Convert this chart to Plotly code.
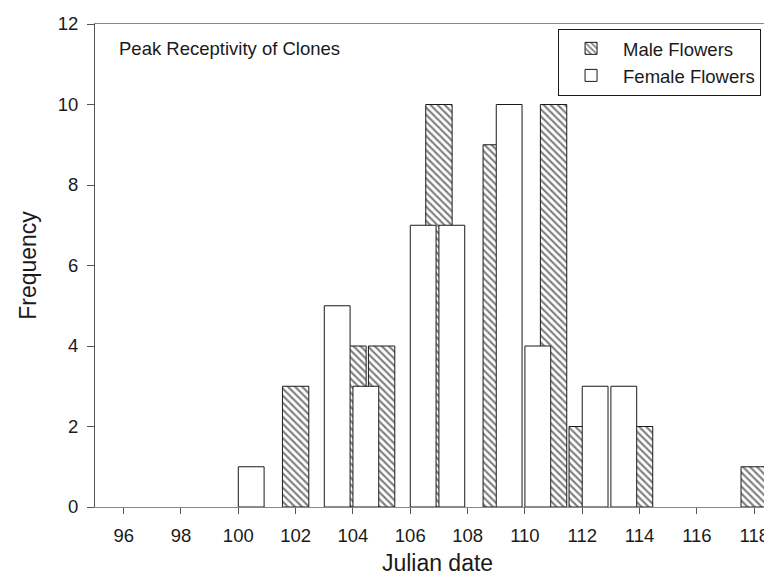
import plotly.graph_objects as go

# Data
male_dates = [102, 104, 105, 107, 109, 111, 112, 114, 118]
male_freq = [3, 4, 4, 10, 9, 10, 2, 2, 1]
female_dates = [100, 103, 104, 106, 107, 109, 110, 112, 113]
female_freq = [1, 5, 3, 7, 7, 10, 4, 3, 3]
x_ticks = list(range(96, 119, 2))
y_ticks = list(range(0, 13, 2))

FONT = "Liberation Sans, Arial, sans-serif"
INK = "#1a1a1a"

fig = go.Figure()
fig.add_trace(go.Bar(
    x=male_dates, y=male_freq, name="Male Flowers",
    width=0.92, offset=-0.46,
    marker=dict(color="white", line=dict(color=INK, width=1),
                pattern=dict(shape="\\", fgcolor="#000000", bgcolor="white",
                             size=5, solidity=0.42)),
))
fig.add_trace(go.Bar(
    x=female_dates, y=female_freq, name="Female Flowers",
    width=0.9, offset=0.0,
    marker=dict(color="white", line=dict(color=INK, width=1)),
))

fig.update_layout(
    width=772, height=580,
    margin=dict(l=87, r=0, t=16, b=81),
    paper_bgcolor="white", plot_bgcolor="white",
    barmode="overlay",
    font=dict(family=FONT, size=18.5, color=INK),
    showlegend=True,
    legend=dict(x=0.676, y=0.99, xanchor="left", yanchor="top",
                bordercolor=INK, borderwidth=1, bgcolor="white",
                font=dict(family=FONT, size=18.5, color=INK),
                itemwidth=54, traceorder="normal"),
    xaxis=dict(range=[95, 118.9], tickvals=x_ticks, ticks="outside",
               ticklen=6, tickcolor="#555", showline=True, linecolor="#888",
               linewidth=1, mirror=True, showgrid=False, zeroline=False,
               ticklabelstandoff=6,
               tickfont=dict(size=18.5, color=INK),
               title=dict(text="Julian date", font=dict(size=23, color=INK),
                          standoff=9)),
    yaxis=dict(range=[0, 12], tickvals=y_ticks, ticks="outside",
               ticklen=7, tickcolor="#555", showline=True, linecolor="#555",
               linewidth=1, showgrid=False, zeroline=False,
               ticklabelstandoff=5,
               tickfont=dict(size=18.5, color=INK),
               title=dict(text="Frequency", font=dict(size=23, color=INK),
                          standoff=14)),
    annotations=[dict(text="Peak Receptivity of Clones", xref="paper", yref="paper",
                      x=0.032, y=0.949, xanchor="left", yanchor="middle",
                      showarrow=False, font=dict(size=18.5, color=INK))],
)

fig.write_html("out.html")
